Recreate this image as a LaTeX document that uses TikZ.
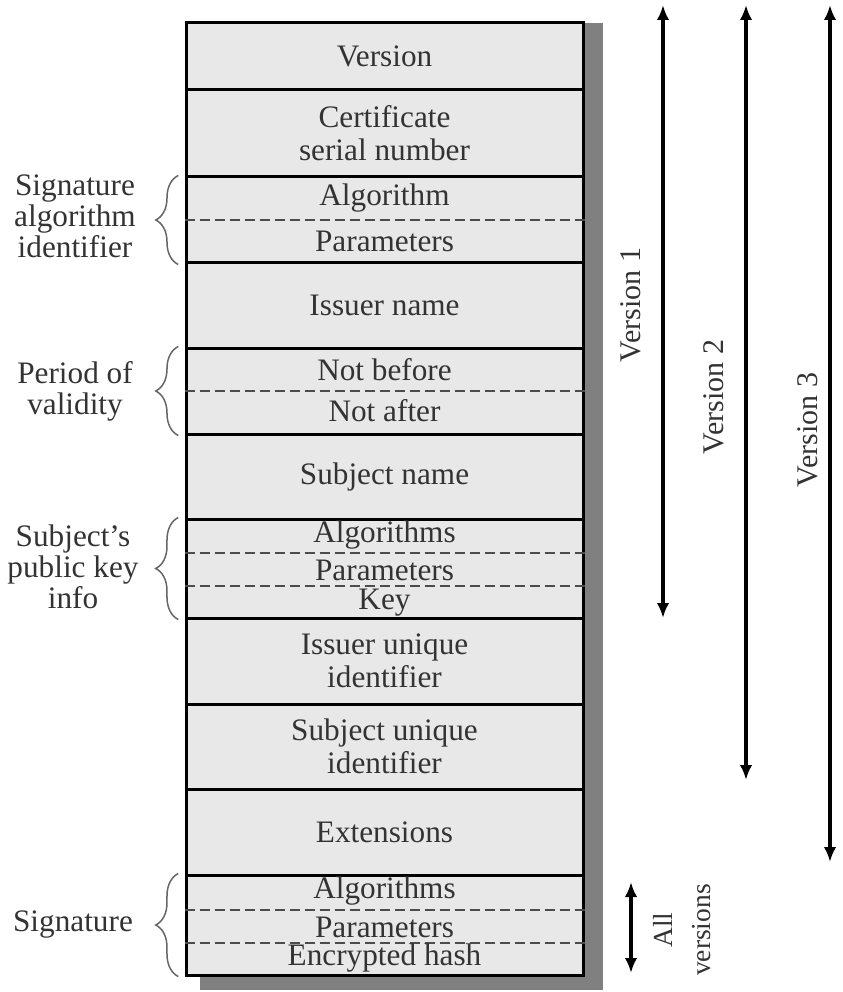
\documentclass[tikz,border=0pt]{standalone}
\usepackage{fontspec}
\setmainfont{Liberation Serif}
\usetikzlibrary{arrows.meta,positioning,decorations.pathreplacing}
\tikzstyle{fieldbox}=[rectangle, draw, line width=1.2pt, fill=black!9, text=black!80, align=center, minimum width=158.8pt, inner sep=0pt, font=\fontsize{12.5}{13.2}\selectfont]
\tikzstyle{subfield}=[inner sep=0pt, text=black!80, font=\fontsize{12.5}{13.2}\selectfont]
\tikzstyle{sidelabel}=[align=center, inner sep=0pt, text=black!80, font=\fontsize{12.5}{12.4}\selectfont]
\tikzstyle{verlabel}=[align=center, inner sep=0pt, rotate=90, text=black!80, font=\fontsize{12}{13}\selectfont]
\tikzstyle{bracket}=[decorate, decoration={brace,amplitude=9pt}, black!60, line width=0.6pt]
\tikzstyle{dashsep}=[black!70, line width=0.6pt, dash pattern=on 4pt off 2pt]
\tikzstyle{verarrow}=[{Latex[length=6pt,width=5pt]}-{Latex[length=6pt,width=5pt]}, line width=1.4pt]

\begin{document}
\begin{tikzpicture}[x=0.4pt, y=-0.4pt]
\useasboundingbox (0,0) rectangle (842,992);
% shadow
\fill[black!50] (200,23) rectangle (603,990);

\node[fieldbox, minimum height=26.8pt] (f1) at (384.5,56.5) {Version};
\node[fieldbox, minimum height=34.8pt] (f2) at (384.5,133.5) {Certificate\\serial number};
\node[fieldbox, minimum height=34.4pt] (f3) at (384.5,220) {};
\node[fieldbox, minimum height=34pt] (f4) at (384.5,305.5) {Issuer name};
\node[fieldbox, minimum height=34.4pt] (f5) at (384.5,391) {};
\node[fieldbox, minimum height=34pt] (f6) at (384.5,476.5) {Subject name};
\node[fieldbox, minimum height=39.6pt] (f7) at (384.5,568.5) {};
\node[fieldbox, minimum height=34.4pt] (f8) at (384.5,661) {Issuer unique\\identifier};
\node[fieldbox, minimum height=34pt] (f9) at (384.5,746.5) {Subject unique\\identifier};
\node[fieldbox, minimum height=34.4pt] (f10) at (384.5,832) {Extensions};
\node[fieldbox, minimum height=40pt] (f11) at (384.5,925) {};

% dashed splits
\draw[dashsep] (f3.west) -- (f3.east);
\draw[dashsep] (f5.west) -- (f5.east);
\draw[dashsep] (f7.west |- 0,553) -- (f7.east |- 0,553);
\draw[dashsep] (f7.west |- 0,586) -- (f7.east |- 0,586);
\draw[dashsep] (f11.west |- 0,910) -- (f11.east |- 0,910);
\draw[dashsep] (f11.west |- 0,943) -- (f11.east |- 0,943);

\node[subfield] (s1) at (384.5,198) {Algorithm};
\node[subfield] (s2) at (384.5,241) {Parameters};
\node[subfield] (s3) at (384.5,370) {Not before};
\node[subfield] (s4) at (384.5,411) {Not after};
\node[subfield] (s5) at (384.5,535) {Algorithms};
\node[subfield] (s6) at (384.5,570) {Parameters};
\node[subfield] (s7) at (384.5,603) {Key};
\node[subfield] (s8) at (384.5,891) {Algorithms};
\node[subfield] (s9) at (384.5,927) {Parameters};
\node[subfield] (s10) at (384.5,958) {Encrypted hash};

% braces and labels
\draw[bracket] ([xshift=-2.5pt]f3.south west) -- ([xshift=-2.5pt]f3.north west);
\draw[bracket] ([xshift=-2.5pt]f5.south west) -- ([xshift=-2.5pt]f5.north west);
\draw[bracket] ([xshift=-2.5pt]f7.south west) -- ([xshift=-2.5pt]f7.north west);
\draw[bracket] ([xshift=-2.5pt]f11.south west) -- ([xshift=-2.5pt]f11.north west);
\node[sidelabel] (l1) at (75,216) {Signature\\algorithm\\identifier};
\node[sidelabel] (l2) at (75,391) {Period of\\validity};
\node[sidelabel] (l3) at (73,567) {Subject's\\public key\\info};
\node[sidelabel] (l4) at (73,925) {Signature};

% version spans
\coordinate (v1t) at (663,5);
\coordinate (v1b) at (663,618);
\coordinate (v2t) at (746,5);
\coordinate (v2b) at (746,780);
\coordinate (v3t) at (830,5);
\coordinate (v3b) at (830,862);
\coordinate (vat) at (631,882);
\coordinate (vab) at (631,973);
\draw[verarrow] (v1t) -- (v1b);
\draw[verarrow] (v2t) -- (v2b);
\draw[verarrow] (v3t) -- (v3b);
\draw[verarrow] (vat) -- (vab);
\node[verlabel] (t1) at (631,305) {Version 1};
\node[verlabel] (t2) at (714,397) {Version 2};
\node[verlabel] (t3) at (808,430) {Version 3};
\node[verlabel, font=\fontsize{11}{15}\selectfont] (t4) at (682,930) {All\\versions};

\end{tikzpicture}
\end{document}
